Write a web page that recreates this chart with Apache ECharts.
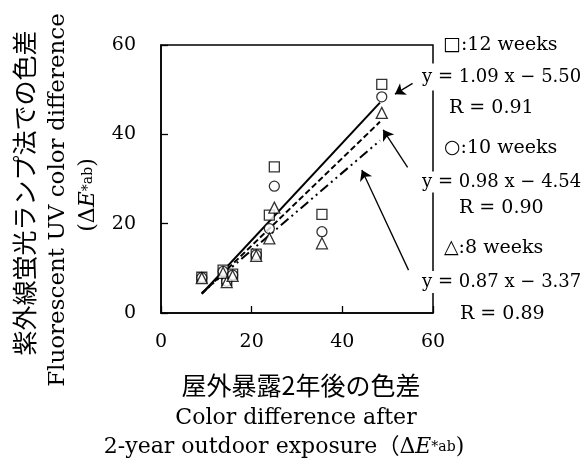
<!DOCTYPE html>
<html>
<head>
<meta charset="utf-8">
<script src="https://cdn.jsdelivr.net/npm/echarts@6/dist/echarts.min.js"></script>
<style>html,body{margin:0;padding:0;background:#fff;}#c{width:588px;height:460px;}</style>
</head>
<body>
<div id="c"></div>
<script>
// Outdoor exposure colour difference (x) for each sample
const exposureX = [9.0, 13.7, 14.5, 15.8, 21.0, 23.9, 25.0, 35.5, 48.7];
// Fluorescent UV colour difference (y)
const weeks12 = [8.0, 9.6, 7.3, 8.7, 13.2, 21.9, 32.7, 22.1, 51.2];
const weeks10 = [7.9, 9.3, 7.1, 8.5, 13.0, 18.9, 28.4, 18.2, 48.4];
const weeks8  = [7.8, 9.0, 6.9, 8.3, 12.8, 16.7, 23.6, 15.6, 44.8];
// Regression line end points
const fitX   = [9.0, 48.3];
const fit12Y = [4.3, 47.1];
const fit10Y = [4.3, 42.8];
const fit8Y  = [4.5, 38.6];
// Arrow annotations (data units): tail -> head
const arrowTail = [[55.5, 51.4], [54.4, 32.6], [54.6, 9.6]];
const arrowHead = [[51.6, 49.0], [49.0, 41.0], [44.3, 32.0]];
// Axis ticks
const xTicks = [0, 20, 40, 60];
const yTicks = [0, 20, 40, 60];
// Annotation texts
const legendTexts = ['□:12 weeks', '○:10 weeks', '△:8 weeks'];
const eqTexts = ['y = 1.09 x − 5.50', 'y = 0.98 x − 4.54', 'y = 0.87 x − 3.37'];
const rTexts = ['R = 0.91', 'R = 0.90', 'R = 0.89'];

const SERIF = '"DejaVu Serif", "DejaVu Sans", "Noto Sans CJK JP", serif';
const pair = (xs, ys) => xs.map((x, i) => [x, ys[i]]);

const chart = echarts.init(document.getElementById('c'), null, {renderer: 'canvas'});

const markerStyle = {color: '#fff', borderColor: '#000', borderWidth: 1.3};

function annText(txt, x, y, pad, size) {
  return {
    type: 'text', x: x, y: y, z: 100,
    style: {
      text: txt, fill: '#000', font: (size || 18) + 'px ' + SERIF,
      textAlign: 'left', textVerticalAlign: 'middle',
      backgroundColor: '#fff', padding: pad
    }
  };
}

const richE = {
  n: {font: '22px ' + SERIF, fill: '#000', height: 28, verticalAlign: 'middle'},
  i: {font: 'italic 22px ' + SERIF, fill: '#000', height: 28, verticalAlign: 'middle'},
  s: {font: '14px ' + SERIF, fill: '#000', height: 28, verticalAlign: 'top'},
  b: {font: '14px ' + SERIF, fill: '#000', height: 28, verticalAlign: 'bottom'}
};

const option = {
  animation: false,
  backgroundColor: '#fff',
  grid: {left: 161, right: 155, top: 45, bottom: 147, show: true, borderColor: '#000', borderWidth: 1.5, backgroundColor: 'transparent'},
  xAxis: {
    type: 'value', min: xTicks[0], max: xTicks[xTicks.length - 1], interval: 20,
    axisLine: {show: true, lineStyle: {color: '#000', width: 1.5}},
    axisTick: {show: true, inside: true, length: 7, lineStyle: {color: '#000', width: 1.3}},
    axisLabel: {color: '#000', fontFamily: SERIF, fontSize: 19, margin: 20},
    splitLine: {show: false}
  },
  yAxis: {
    type: 'value', min: yTicks[0], max: yTicks[yTicks.length - 1], interval: 20,
    axisLine: {show: true, lineStyle: {color: '#000', width: 1.5}},
    axisTick: {show: true, inside: true, length: 7, lineStyle: {color: '#000', width: 1.3}},
    axisLabel: {color: '#000', fontFamily: SERIF, fontSize: 19, margin: 25},
    splitLine: {show: false}
  },
  series: [
    {type: 'line', data: pair(fitX, fit12Y), showSymbol: false, symbol: 'none', silent: true,
     lineStyle: {color: '#000', width: 2, type: 'solid'}, itemStyle: {color: '#000'}, z: 3},
    {type: 'line', data: pair(fitX, fit10Y), showSymbol: false, symbol: 'none', silent: true,
     lineStyle: {color: '#000', width: 2, type: [6, 3]}, itemStyle: {color: '#000'}, z: 3},
    {type: 'line', data: pair(fitX, fit8Y), showSymbol: false, symbol: 'none', silent: true,
     lineStyle: {color: '#000', width: 2, type: [10, 4, 2, 4, 2, 4]}, itemStyle: {color: '#000'}, z: 3},
    {type: 'scatter', name: '12 weeks', data: pair(exposureX, weeks12), symbol: 'rect', symbolSize: 10, itemStyle: markerStyle, z: 4},
    {type: 'scatter', name: '10 weeks', data: pair(exposureX, weeks10), symbol: 'circle', symbolSize: 10, itemStyle: markerStyle, z: 4},
    {type: 'scatter', name: '8 weeks', data: pair(exposureX, weeks8), symbol: 'triangle', symbolSize: 11, itemStyle: markerStyle, z: 4},
    // annotation arrows
    {type: 'scatter', name: 'arrows', data: [], silent: true, itemStyle: {color: '#000'}, z: 5,
     markLine: {
       silent: true, symbol: ['none', 'arrow'], symbolSize: 10,
       label: {show: false}, animation: false,
       itemStyle: {color: '#000'},
       lineStyle: {color: '#000', width: 1.3, type: 'solid'},
       emphasis: {disabled: true},
       data: arrowTail.map((t, i) => [{coord: t}, {coord: arrowHead[i]}])
     }}
  ],
  graphic: [
    // right-hand annotations (white backgrounds break the frame line)
    annText(legendTexts[0], 434, 45, [10, 4, 10, 9], 19),
    annText(eqTexts[0], 420, 77, [4, 2, 5, 2]),
    annText(rTexts[0], 447, 108, [0, 2, 0, 2], 19),
    annText(legendTexts[1], 436, 148, [10, 4, 8, 8], 19),
    annText(eqTexts[1], 420, 182, [2, 2, 1, 2]),
    annText(rTexts[1], 457, 208, [0, 2, 0, 2], 19),
    annText(legendTexts[2], 436, 248, [10, 4, 8, 8], 19),
    annText(eqTexts[2], 420, 282, [2, 2, 2, 2]),
    annText(rTexts[2], 458, 314, [0, 2, 0, 2], 19),
    // y axis title
    {type: 'text', x: 24, y: 193, rotation: Math.PI / 2,
     style: {text: '紫外線蛍光ランプ法での色差', fill: '#000', font: '25px "Noto Sans CJK JP"', textAlign: 'center', textVerticalAlign: 'middle'}},
    {type: 'text', x: 58, y: 200, rotation: Math.PI / 2,
     style: {text: 'Fluorescent UV color difference', fill: '#000', font: '23px ' + SERIF, textAlign: 'center', textVerticalAlign: 'middle'}},
    {type: 'text', x: 88, y: 195, rotation: Math.PI / 2,
     style: {text: '{n|(Δ}{i|E}{s|*}{b|ab}{n|)}', fill: '#000', textAlign: 'center', textVerticalAlign: 'middle', rich: richE}},
    // x axis title
    {type: 'text', x: 301, y: 385,
     style: {text: '屋外暴露2年後の色差', fill: '#000', font: '25px "Noto Sans CJK JP"', textAlign: 'center', textVerticalAlign: 'middle'}},
    {type: 'text', x: 296, y: 418,
     style: {text: 'Color difference after', fill: '#000', font: '22px ' + SERIF, textAlign: 'center', textVerticalAlign: 'middle'}},
    {type: 'text', x: 284, y: 447,
     style: {text: '{n|2-year outdoor exposure（Δ}{i|E}{s|*}{b|ab}{n|)}', fill: '#000', textAlign: 'center', textVerticalAlign: 'middle', rich: richE}}
  ]
};
chart.setOption(option);
</script>
</body>
</html>
